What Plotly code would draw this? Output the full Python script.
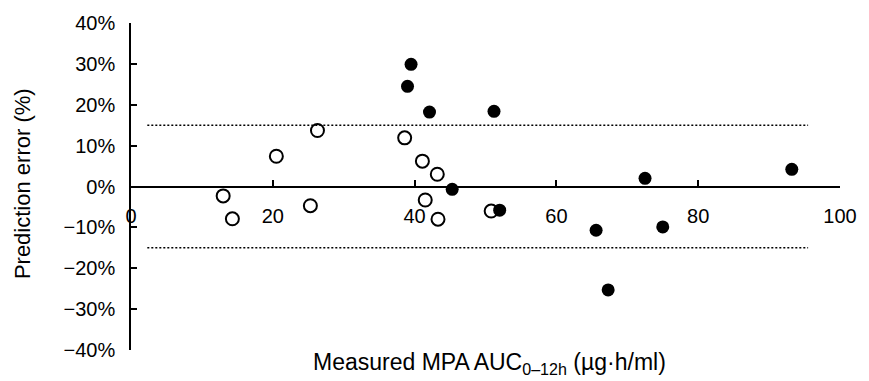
import plotly.graph_objects as go

# Data
open_x = [13.0, 14.3, 20.5, 25.3, 26.3, 38.6, 41.1, 41.5, 43.2, 43.3, 50.8]
open_y = [-2.3, -7.9, 7.4, -4.7, 13.7, 11.9, 6.2, -3.3, 3.0, -8.0, -6.0]

filled_x = [39.0, 39.5, 42.1, 45.3, 51.2, 52.0, 65.6, 67.3, 72.5, 75.0, 93.2]
filled_y = [24.5, 29.9, 18.2, -0.7, 18.4, -5.8, -10.7, -25.3, 2.0, -9.9, 4.2]

limit_x = [2.3, 95.5]
upper_limit = [15, 15]
lower_limit = [-15, -15]

x_ticks = [0, 20, 40, 60, 80, 100]
x_tick_labels = ["0", "20", "40", "60", "80", "100"]
y_ticks = [-40, -30, -20, -10, 0, 10, 20, 30, 40]
y_tick_labels = ["−40%", "−30%", "−20%", "−10%", "0%", "10%", "20%", "30%", "40%"]

FONT = "Liberation Sans, Arial, sans-serif"

fig = go.Figure()

for ly in (upper_limit, lower_limit):
    fig.add_trace(go.Scatter(
        x=limit_x, y=ly, mode="lines",
        line=dict(color="black", width=1.5, dash="2px,2px"),
        showlegend=False, hoverinfo="skip"))

fig.add_trace(go.Scatter(
    x=open_x, y=open_y, mode="markers",
    marker=dict(symbol="circle-open", size=13, color="black",
                line=dict(color="black", width=2)),
    showlegend=False))

fig.add_trace(go.Scatter(
    x=filled_x, y=filled_y, mode="markers",
    marker=dict(symbol="circle", size=13, color="black"),
    showlegend=False))

fig.update_layout(
    width=869, height=381,
    margin=dict(l=131, r=17, t=21, b=31),
    paper_bgcolor="white", plot_bgcolor="white",
    font=dict(family=FONT, color="black", size=20),
    xaxis=dict(
        range=[0, 100], anchor="free", position=0.5,
        showline=True, linecolor="black", linewidth=1.5,
        ticks="inside", ticklen=6, tickwidth=1.5, tickcolor="black",
        tickvals=x_ticks, ticktext=x_tick_labels,
        ticklabelstandoff=12,
        showgrid=False, zeroline=False,
        tickfont=dict(size=20),
    ),
    yaxis=dict(
        range=[-40, 40],
        showline=True, linecolor="black", linewidth=1.5,
        ticks="inside", ticklen=6, tickwidth=1.5, tickcolor="black",
        tickvals=y_ticks, ticktext=y_tick_labels,
        ticklabelstandoff=10,
        showgrid=False, zeroline=False,
        tickfont=dict(size=20),
    ),
    annotations=[
        dict(text="Measured MPA AUC<sub>0–12h</sub> (µg·h/ml)",
             xref="paper", yref="paper", x=0.505, y=-0.04,
             xanchor="center", yanchor="middle", showarrow=False,
             font=dict(size=23)),
        dict(text="Prediction error (%)", textangle=-90,
             xref="paper", yref="paper", x=-0.152, y=0.508,
             xanchor="center", yanchor="middle", showarrow=False,
             font=dict(size=22)),
    ],
)

fig.write_html("out.html")
